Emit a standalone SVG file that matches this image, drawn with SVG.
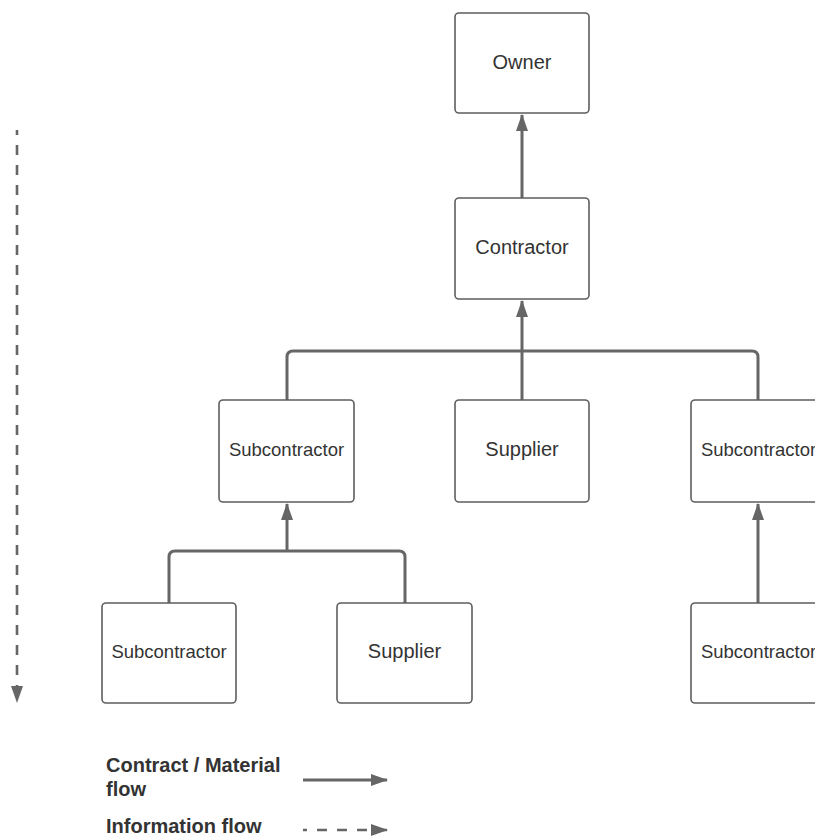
<svg xmlns="http://www.w3.org/2000/svg" width="815" height="837" viewBox="0 0 815 837">
  <style>
    .box { fill: #ffffff; stroke: #5e5e5e; stroke-width: 1.6; }
    .lbl { font-family: "Liberation Sans", Arial, sans-serif; fill: #333333; text-anchor: middle; dominant-baseline: central; }
    .big { font-size: 20px; }
    .small { font-size: 18.5px; }
    .conn { fill: none; stroke: #666666; stroke-width: 3; stroke-linejoin: round; }
    .dash { fill: none; stroke: #666666; stroke-width: 2.6; stroke-dasharray: 10 10; }
    .legend { font-family: "Liberation Sans", Arial, sans-serif; font-weight: bold; font-size: 20px; fill: #333333; }
  </style>
  <defs>
    <marker id="arrow" viewBox="0 0 17 12" refX="16" refY="6" markerWidth="17" markerHeight="12" markerUnits="userSpaceOnUse" orient="auto">
      <path d="M0,0 L17,6 L0,12 Z" fill="#666666"/>
    </marker>
  </defs>

  <rect width="815" height="837" fill="#ffffff"/>

  <g id="connectors">
    <!-- Contractor to Owner -->
    <path class="conn" d="M522,198 L522,115" marker-end="url(#arrow)"/>
    <!-- level 2 into Contractor -->
    <path class="conn" d="M287,400 L287,357 Q287,351 293,351 L752,351 Q758,351 758,357 L758,400"/>
    <path class="conn" d="M522,400 L522,301" marker-end="url(#arrow)"/>
    <!-- level 3 into left Subcontractor -->
    <path class="conn" d="M169,603 L169,557 Q169,551 175,551 L399,551 Q405,551 405,557 L405,603"/>
    <path class="conn" d="M287,551 L287,504" marker-end="url(#arrow)"/>
    <!-- level 3 into right Subcontractor -->
    <path class="conn" d="M758,603 L758,504" marker-end="url(#arrow)"/>
    <!-- information flow direction -->
    <path class="dash" d="M17,130 L17,702" stroke-dashoffset="5" marker-end="url(#arrow)"/>
    <!-- legend arrows -->
    <path class="conn" d="M303,780 L387,780" stroke-width="2.6" marker-end="url(#arrow)"/>
    <path class="dash" d="M303,830 L387,830" stroke-dasharray="11 11" stroke-dashoffset="6" marker-end="url(#arrow)"/>
  </g>

  <g id="owner">
    <rect class="box" x="455" y="13" width="134" height="100" rx="4"/>
    <text class="lbl big" x="522" y="62">Owner</text>
  </g>
  <g id="contractor">
    <rect class="box" x="455" y="198" width="134" height="101" rx="4"/>
    <text class="lbl big" x="522" y="247">Contractor</text>
  </g>
  <g id="subcontractor-left">
    <rect class="box" x="219" y="400" width="135" height="102" rx="4"/>
    <text class="lbl small" x="286.5" y="449">Subcontractor</text>
  </g>
  <g id="supplier-mid">
    <rect class="box" x="455" y="400" width="134" height="102" rx="4"/>
    <text class="lbl big" x="522" y="449">Supplier</text>
  </g>
  <g id="subcontractor-right">
    <rect class="box" x="691" y="400" width="135" height="102" rx="4"/>
    <text class="lbl small" x="758.5" y="449">Subcontractor</text>
  </g>
  <g id="subcontractor-bottom-left">
    <rect class="box" x="102" y="603" width="134" height="100" rx="4"/>
    <text class="lbl small" x="169" y="651">Subcontractor</text>
  </g>
  <g id="supplier-bottom">
    <rect class="box" x="337" y="603" width="135" height="100" rx="4"/>
    <text class="lbl big" x="404.5" y="651">Supplier</text>
  </g>
  <g id="subcontractor-bottom-right">
    <rect class="box" x="691" y="603" width="135" height="100" rx="4"/>
    <text class="lbl small" x="758.5" y="651">Subcontractor</text>
  </g>

  <g id="legend">
    <text class="legend" x="106" y="772">Contract / Material</text>
    <text class="legend" x="106" y="796">flow</text>
    <text class="legend" x="106" y="833">Information flow</text>
  </g>
</svg>
